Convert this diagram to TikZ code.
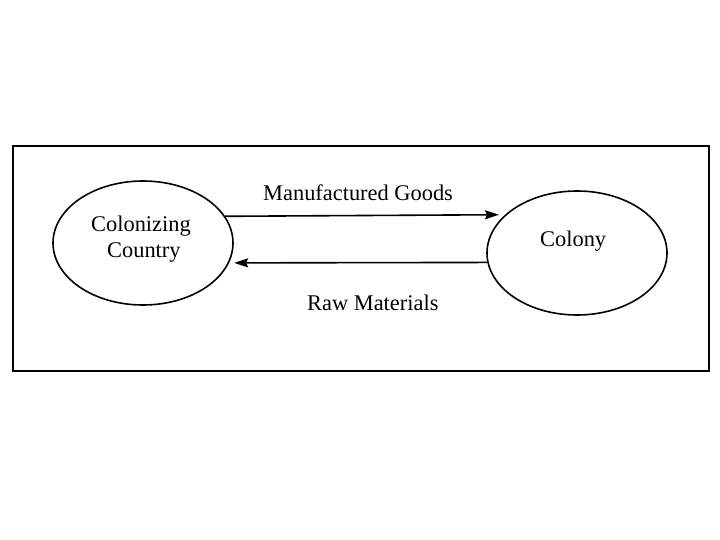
\documentclass[tikz,border=0pt]{standalone}
\usepackage{fontspec}
\setmainfont{Liberation Serif}
\usetikzlibrary{shapes.geometric,arrows.meta}
\begin{document}
\begin{tikzpicture}[x=1pt,y=-1pt,
  oval/.style={ellipse,draw,line width=1.6pt,minimum width=180pt,minimum height=124pt,inner sep=0pt},
  lbl/.style={inner sep=0pt,font=\fontsize{22.4}{26}\selectfont},
  flow/.style={line width=1.6pt,-{Stealth[length=14pt,width=9pt,inset=2pt]}}]
\useasboundingbox (0,0) rectangle (720,540);
\draw[line width=2.4pt] (13,146) rectangle (709,371);
\node[oval] (L) at (143,243) {};
\node[oval] (R) at (577,253) {};
\node[lbl,anchor=base west] (ltxt1) at (91,232) {Colonizing};
\node[lbl,anchor=base west] (ltxt2) at (107,258) {Country};
\node[lbl,anchor=base west] (rtxt) at (540,247) {Colony};
\node[lbl,anchor=base west] (mg) at (263,201) {Manufactured Goods};
\node[lbl,anchor=base west] (rm) at (307,310) {Raw Materials};
\draw[flow] (L.18.4) -- ([xshift=-6pt]R.152.8);
\draw[flow] (R.186.4) -- ([xshift=5pt]L.-13.2);
\end{tikzpicture}
\end{document}
